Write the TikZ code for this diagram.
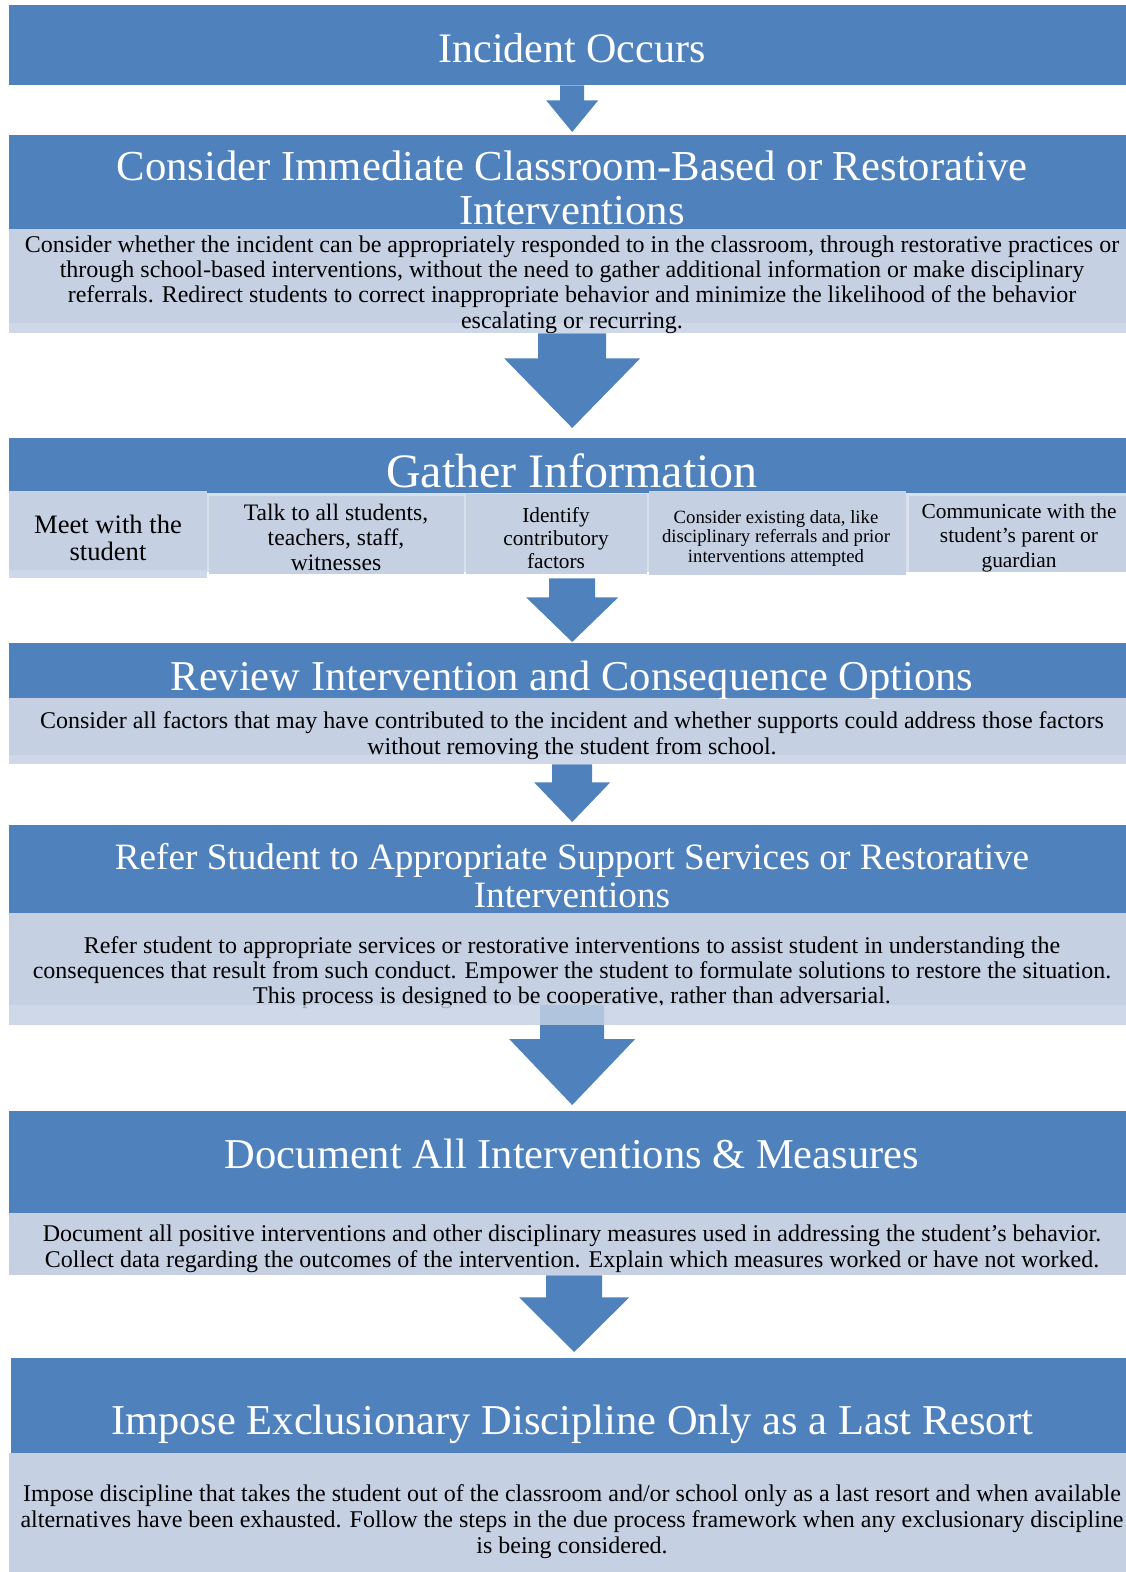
\documentclass[tikz,border=0pt]{standalone}
\usepackage{fontspec}
\setmainfont{Liberation Serif}
\usetikzlibrary{calc}
\definecolor{hdrblue}{HTML}{4F81BD}
\definecolor{bodyblue}{HTML}{C5D0E3}
\definecolor{bandblue}{HTML}{D3DBEA}
\definecolor{sepblue}{HTML}{D9E0ED}

% block arrow: from, to, shaft half width, head half width, shaft length, gap before target
\newcommand\blockarrow[6]{%
  \fill[hdrblue] let \p1=(#1), \p2=(#2.north) in
    (\x2-#3pt,\y1) -- (\x2-#3pt,\y1-#5pt) -- (\x2-#4pt,\y1-#5pt) --
    (\x2,\y2+#6pt) --
    (\x2+#4pt,\y1-#5pt) -- (\x2+#3pt,\y1-#5pt) -- (\x2+#3pt,\y1) -- cycle;}

\tikzset{
  hdrbox/.style={fill=hdrblue, draw=none, anchor=north west, inner sep=0pt, minimum width=1126pt},
  bodybox/.style={fill=bodyblue, draw=none, anchor=north west, inner sep=0pt, minimum width=1126pt},
  subbox/.style={fill=bodyblue, draw=none, anchor=north west, inner sep=0pt},
  band/.style={fill=bandblue, fill opacity=0.75},
  % multi-line texts are placed by the baseline of their last line
  ttl/.style={text=white, anchor=base, align=center, inner sep=0pt, font=\fontsize{42.5}{44}\selectfont},
  bodytxt/.style={text=black, anchor=base, align=center, inner sep=0pt, font=\fontsize{24}{25.5}\selectfont},
  subtxt/.style={text=black, anchor=base, align=center, inner sep=0pt},
}

\begin{document}
\begin{tikzpicture}[x=1pt,y=-1pt]
\useasboundingbox (0,0) rectangle (1126,1572);
\clip (0,0) rectangle (1126,1572);

% ---- step 1
\node[hdrbox, minimum height=80pt] (b1) at (9,5) {};
\node[ttl, font=\fontsize{42}{44}\selectfont] (t1) at (572,62) {Incident Occurs};

% ---- step 2
\node[hdrbox, minimum height=94pt] (b2h) at (9,135) {};
\node[bodybox, minimum height=104pt] (b2b) at (9,229) {};
\fill[band] (9,323) rectangle (1135,333);
\node[ttl, font=\fontsize{42.7}{44}\selectfont] (t2) at (572,224)
  {Consider Immediate Classroom-Based or Restorative\\Interventions};
\node[bodytxt, font=\fontsize{24}{25.3}\selectfont] (d2) at (572,328)
  {Consider whether the incident can be appropriately responded to in the classroom, through restorative practices or\\
   through school-based interventions, without the need to gather additional information or make disciplinary\\
   referrals. Redirect students to correct inappropriate behavior and minimize the likelihood of the behavior\\
   escalating or recurring.};

% ---- step 3
\node[hdrbox, minimum height=56pt] (b3h) at (9,438) {};
\node[ttl, font=\fontsize{48}{50}\selectfont] (t3) at (572,487) {Gather Information};

\fill[sepblue] (9,493) rectangle (1135,572);
\node[subbox, minimum width=198pt, minimum height=87pt] (s1) at (9,491) {};
\fill[band] (9,570) rectangle (207,578);
\node[subbox, minimum width=255pt, minimum height=78pt] (s2) at (209,496) {};
\node[subbox, minimum width=181pt, minimum height=80pt] (s3) at (466,494) {};
\node[subbox, minimum width=257pt, minimum height=84pt] (s4) at (649,491) {};
\node[subbox, minimum width=226pt, minimum height=76pt] (s5) at (909,496) {};

\node[subtxt, font=\fontsize{26.6}{27}\selectfont] (u1) at (108,560) {Meet with the\\student};
\node[subtxt, font=\fontsize{23.6}{25}\selectfont] (u2) at (336,570) {Talk to all students,\\teachers, staff,\\witnesses};
\node[subtxt, font=\fontsize{21.3}{23}\selectfont] (u3) at (556,568) {Identify\\contributory\\factors};
\node[subtxt, font=\fontsize{18.7}{19.5}\selectfont] (u4) at (776,562) {Consider existing data, like\\disciplinary referrals and prior\\interventions attempted};
\node[subtxt, font=\fontsize{21.4}{24.5}\selectfont] (u5) at (1019,567) {Communicate with the\\student's parent or\\guardian};

% ---- step 4
\node[hdrbox, minimum height=55pt] (b4h) at (9,643) {};
\node[bodybox, minimum height=66pt] (b4b) at (9,698) {};
\fill[band] (9,755) rectangle (1135,764);
\node[ttl] (t4) at (572,690) {Review Intervention and Consequence Options};
\node[bodytxt, font=\fontsize{24}{26}\selectfont] (d4) at (572,754)
  {Consider all factors that may have contributed to the incident and whether supports could address those factors\\
   without removing the student from school.};

% ---- step 5
\node[hdrbox, minimum height=88pt] (b5h) at (9,825) {};
\node[bodybox, minimum height=112pt] (b5b) at (9,913) {};
\node[ttl, font=\fontsize{37.2}{38}\selectfont] (t5) at (572,907)
  {Refer Student to Appropriate Support Services or Restorative\\Interventions};
\node[bodytxt, font=\fontsize{24}{25}\selectfont] (d5) at (572,1003)
  {Refer student to appropriate services or restorative interventions to assist student in understanding the\\
   consequences that result from such conduct. Empower the student to formulate solutions to restore the situation.\\
   This process is designed to be cooperative, rather than adversarial.};
\coordinate (a5s) at (572,1005);

% ---- step 6
\node[hdrbox, minimum height=102pt] (b6h) at (9,1111) {};
\node[bodybox, minimum height=62pt] (b6b) at (9,1213) {};
\node[ttl] (t6) at (572,1168) {Document All Interventions \& Measures};
\node[bodytxt, font=\fontsize{24}{26}\selectfont] (d6) at (572,1267)
  {Document all positive interventions and other disciplinary measures used in addressing the student's behavior.\\
   Collect data regarding the outcomes of the intervention. Explain which measures worked or have not worked.};

% ---- step 7
\node[hdrbox, minimum height=95pt] (b7h) at (11,1358) {};
\node[bodybox, minimum height=119pt] (b7b) at (9,1453) {};
\node[ttl] (t7) at (572,1434) {Impose Exclusionary Discipline Only as a Last Resort};
\node[bodytxt, font=\fontsize{24}{26}\selectfont] (d7) at (572,1553)
  {Impose discipline that takes the student out of the classroom and/or school only as a last resort and when available\\
   alternatives have been exhausted. Follow the steps in the due process framework when any exclusionary discipline\\
   is being considered.};

% ---- connecting block arrows
\blockarrow{b1.south}{b2h}{12}{26}{15}{3}
\blockarrow{b2b.south}{b3h}{34}{68}{25}{10}
\blockarrow{s1.south -| b4h.north}{b4h}{23}{46}{19}{1}
\blockarrow{b4b.south}{b5h}{20}{38}{18}{3}
\blockarrow{a5s}{b6h}{32}{63}{34}{6}
\fill[band] (9,1005) rectangle (1135,1025);
\blockarrow{b6b.south}{b7h}{28}{55}{22}{6}
\end{tikzpicture}
\end{document}
